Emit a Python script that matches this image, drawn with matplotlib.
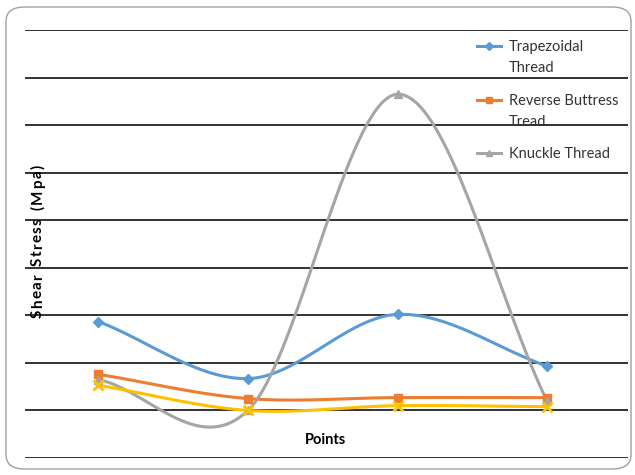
import numpy as np
import matplotlib.pyplot as plt
from matplotlib.font_manager import FontProperties
from matplotlib.lines import Line2D
from matplotlib.patches import FancyBboxPatch

plt.rcParams['font.family'] = ['Lato', 'DejaVu Sans']

points = [0, 1, 2, 3]
trapezoidal = [1.87, 0.67, 2.02, 0.93]
reverse_buttress = [0.76, 0.25, 0.27, 0.27]
knuckle = [0.65, 0.0, 6.65, 0.19]
fourth = [0.53, 0.0, 0.10, 0.08]

series = [
    ("Trapezoidal\nThread", trapezoidal, '#5B9BD5', 'D', 5),
    ("Reverse Buttress\nTread", reverse_buttress, '#ED7D31', 's', 6),
    ("Knuckle Thread", knuckle, '#A5A5A5', '^', 6),
    (None, fourth, '#FFC000', 'x', 7),
]
y_title = "Shear Stress (Mpa)"
x_title = "Points"


def smooth(x, y, n=40):
    # Catmull-Rom curve through the points, like a "smoothed line" chart
    x = np.asarray(x, float)
    y = np.asarray(y, float)
    px = np.concatenate([[2 * x[0] - x[1]], x, [2 * x[-1] - x[-2]]])
    py = np.concatenate([[2 * y[0] - y[1]], y, [2 * y[-1] - y[-2]]])
    xs, ys = [], []
    t = np.linspace(0, 1, n)
    for i in range(1, len(px) - 2):
        for p, out in ((px, xs), (py, ys)):
            p0, p1, p2, p3 = p[i - 1], p[i], p[i + 1], p[i + 2]
            out.extend(0.5 * (2 * p1 + (-p0 + p2) * t
                              + (2 * p0 - 5 * p1 + 4 * p2 - p3) * t ** 2
                              + (-p0 + 3 * p1 - 3 * p2 + p3) * t ** 3))
    return xs, ys


W, H = 635, 475
fig = plt.figure(figsize=(W / 100, H / 100), dpi=100)
border = FancyBboxPatch((6 / W, 6 / H), 625 / W, 462 / H,
                        boxstyle="round,pad=0,rounding_size=0.03",
                        transform=fig.transFigure, facecolor='none',
                        edgecolor='#A0A0A0', linewidth=1.0, zorder=-1)
fig.patches.append(border)

ax = fig.add_axes([25 / W, 17 / H, 603 / W, 428 / H])
ax.set_facecolor('none')
for y in range(-1, 9):
    ax.axhline(y, color='#222222', linewidth=1.3, zorder=1)

legend_rows = []
for label, vals, color, marker, ms in series:
    sx, sy = smooth(points, vals)
    ax.plot(sx, sy, color=color, linewidth=2.2, zorder=3)
    ax.plot(points, vals, linestyle='none', marker=marker, color=color,
            markersize=ms, markeredgewidth=2 if marker == 'x' else 1, zorder=4)
    if label:
        legend_rows.append((label, color, marker, ms))

ax.set_xlim(-0.49, 3.54)
ax.set_ylim(-1, 8)
ax.set_xticks([])
ax.set_yticks([])
for s in ax.spines.values():
    s.set_visible(False)

# legend drawn by hand so the key sits on the first text line
row_y = [46, 100, 153]
for (label, color, marker, ms), y in zip(legend_rows, row_y):
    yf = 1 - y / H
    fig.add_artist(Line2D([477 / W, 501 / W], [yf, yf], color=color,
                          linewidth=2.2, transform=fig.transFigure))
    fig.add_artist(Line2D([489 / W], [yf], color=color, marker=marker,
                          markersize=ms - 1, transform=fig.transFigure))
    fig.text(509 / W, yf + 6 / H, label, ha='left', va='top', fontsize=10.5,
             color='#333333', linespacing=1.6)

# y title with wide letter spacing, laid out one glyph at a time
renderer = fig.canvas.get_renderer()
fp = FontProperties(family=['Lato', 'DejaVu Sans'], size=11, weight='bold')
widths = [renderer.get_text_width_height_descent(c if c != ' ' else 'n', fp, False)[0]
          * (0.6 if c == ' ' else 1.0) for c in y_title]
span = 318 - 165
gap = (span - sum(widths)) / (len(y_title) - 1)
pos = 318.0
for c, w in zip(y_title, widths):
    fig.text(42 / W, 1 - pos / H, c, rotation=90, rotation_mode='anchor',
             ha='left', va='baseline', fontproperties=fp)
    pos -= w + gap

fig.text(325 / W, 1 - 440 / H, x_title, ha='center', va='center',
         fontsize=10.5, fontweight='bold')

fig.savefig('out.png', dpi=100)
